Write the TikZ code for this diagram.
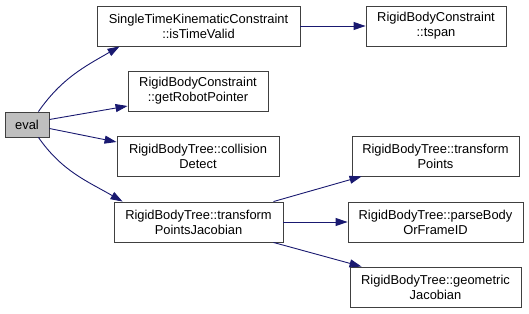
\documentclass[tikz,border=0pt]{standalone}
\usepackage{fontspec}
\setmainfont{Liberation Sans}
\usepackage{tikz}
\usetikzlibrary{arrows.meta,positioning}
\definecolor{edgeblue}{RGB}{25,25,112}
\definecolor{boxgrey}{RGB}{64,64,64}
\definecolor{rootgrey}{RGB}{191,191,191}

\begin{document}
\begin{tikzpicture}[x=1pt, y=-1pt, font=\fontsize{12.9}{15}\selectfont,
  >={Triangle[length=12pt, width=8pt]}, line width=0.9pt,
  fn/.style={draw=boxgrey, fill=white, minimum height=40pt, inner sep=0pt, align=center},
  chiamata/.style={->, edgeblue}]
\useasboundingbox (0,0) rectangle (529,313);
\node[fn, fill=rootgrey, minimum width=44pt, minimum height=25pt] (eval) at (27,124.5) {eval};
\node[fn, minimum width=203pt] (stkc)   at (198.5,26) {SingleTimeKinematicConstraint\\::isTimeValid};
\node[fn, minimum width=140pt] (tspan)  at (436,26)   {RigidBodyConstraint\\::tspan};
\node[fn, minimum width=140pt] (grp)    at (198,91)   {RigidBodyConstraint\\::getRobotPointer};
\node[fn, minimum width=162pt] (coll)   at (198,156)  {RigidBodyTree::collision\\Detect};
\node[fn, minimum width=169pt] (tpj)    at (198.5,222) {RigidBodyTree::transform\\PointsJacobian};
\node[fn, minimum width=167pt] (tpts)   at (435.5,156) {RigidBodyTree::transform\\Points};
\node[fn, minimum width=175pt] (parse)  at (435.5,222) {RigidBodyTree::parseBody\\OrFrameID};
\node[fn, minimum width=171pt] (geojac) at (435.5,287) {RigidBodyTree::geometric\\Jacobian};
% chiamate da eval
\draw[chiamata] ([xshift=-11pt]eval.north east) to[out=55, in=210] ([xshift=23pt]stkc.south west);
\draw[chiamata] ([yshift=5pt]eval.east) -- ([yshift=-15pt]grp.west);
\draw[chiamata] ([yshift=-4pt]eval.east) -- ([yshift=14pt]coll.west);
\draw[chiamata] ([xshift=-11pt]eval.south east) to[out=-55, in=150] ([xshift=9pt]tpj.north west);
\draw[chiamata] (stkc.east) -- (tspan.west);
% chiamate da transformPointsJacobian
\draw[chiamata] ([xshift=-10pt]tpj.north east) -- ([xshift=10pt]tpts.south west);
\draw[chiamata] (tpj.east) -- (parse.west);
\draw[chiamata] ([xshift=-10pt]tpj.south east) -- ([xshift=12pt]geojac.north west);
\end{tikzpicture}
\end{document}
